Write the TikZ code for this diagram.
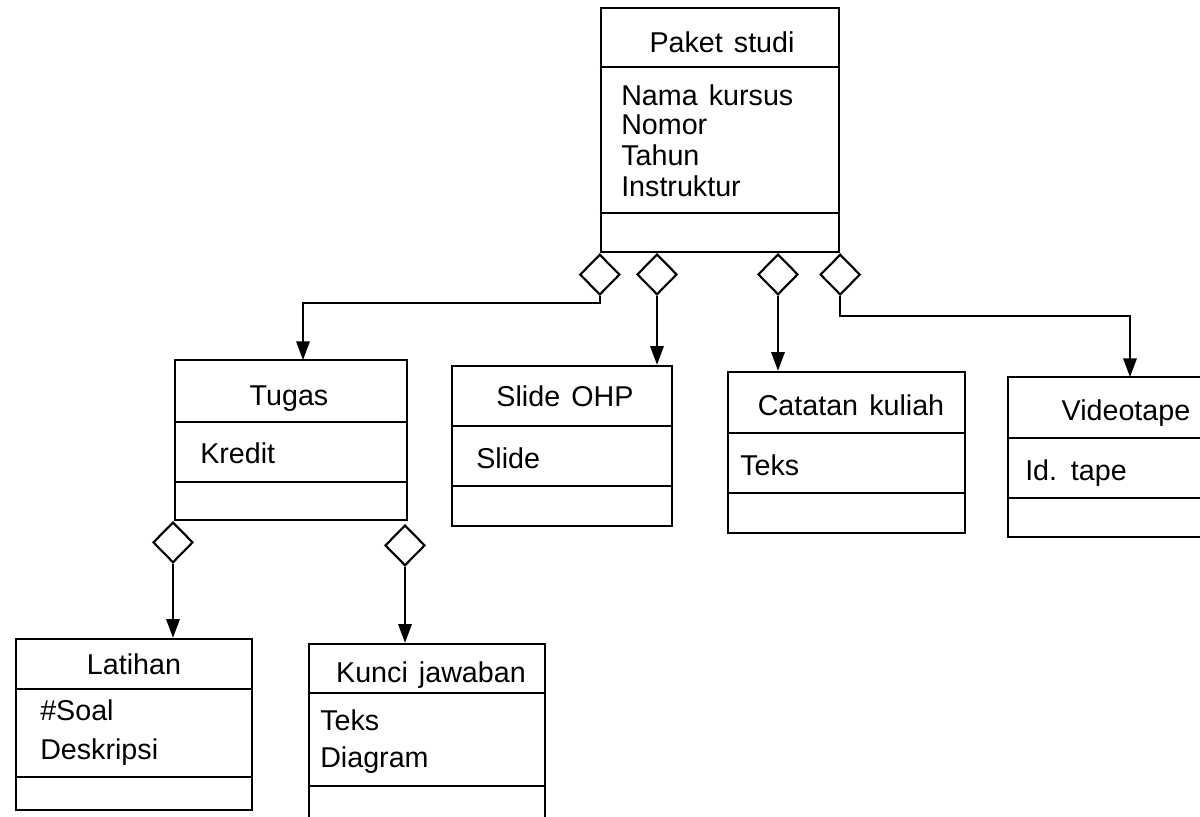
\documentclass[tikz,border=0pt]{standalone}
\usepackage{fontspec}
\setmainfont[WordSpace=1.4]{Liberation Sans}
\usetikzlibrary{fit,shapes.geometric,arrows.meta}
\begin{document}
\begin{tikzpicture}[x=0.75pt,y=-0.75pt,
  classbox/.style={draw,line width=1.8pt,inner sep=0pt},
  divider/.style={line width=1.3pt},
  agg/.style={draw,diamond,aspect=1,line width=1.6pt,inner sep=0pt,
    minimum width=30pt,minimum height=30.5pt,anchor=north,fill=white},
  conn/.style={line width=1.6pt,-{Triangle[length=14pt,width=10pt]}},
  ttl/.style={anchor=base,inner sep=0pt,font=\fontsize{21.5}{25}\selectfont},
  attr/.style={anchor=base west,inner sep=0pt,font=\fontsize{21.5}{25}\selectfont}]
\useasboundingbox (0,0) rectangle (1200,817);
\fill[white] (0,0) rectangle (1200,817);

% ---- Paket studi
\node[classbox,fit={(601,8)(839,252)}] (paket) {};
\draw[divider] (paket.west |- 0,67) -- (paket.east |- 0,67);
\draw[divider] (paket.west |- 0,213) -- (paket.east |- 0,213);
\node[ttl] (paketT) at (722,53) {Paket studi};
\node[attr] (pa1) at (621,105) {Nama kursus};
\node[attr] (pa2) at (621,134) {Nomor};
\node[attr] (pa3) at (621,165) {Tahun};
\node[attr] (pa4) at (621,196) {Instruktur};

% ---- Tugas
\node[classbox,fit={(175,360)(407,520)}] (tugas) {};
\draw[divider] (tugas.west |- 0,422) -- (tugas.east |- 0,422);
\draw[divider] (tugas.west |- 0,482) -- (tugas.east |- 0,482);
\node[ttl] (tugasT) at (289,405) {Tugas};
\node[attr] (ta1) at (200,463) {Kredit};

% ---- Slide OHP
\node[classbox,fit={(452,366)(672,526)}] (slide) {};
\draw[divider] (slide.west |- 0,426) -- (slide.east |- 0,426);
\draw[divider] (slide.west |- 0,486) -- (slide.east |- 0,486);
\node[ttl] (slideT) at (565,406) {Slide OHP};
\node[attr] (sa1) at (476,468) {Slide};

% ---- Catatan kuliah
\node[classbox,fit={(728,372)(965,533)}] (catatan) {};
\draw[divider] (catatan.west |- 0,433) -- (catatan.east |- 0,433);
\draw[divider] (catatan.west |- 0,493) -- (catatan.east |- 0,493);
\node[ttl] (catatanT) at (851,415) {Catatan kuliah};
\node[attr] (ca1) at (740,475) {Teks};

% ---- Videotape
\node[classbox,fit={(1008,377)(1215,537)}] (video) {};
\draw[divider] (video.west |- 0,438) -- (video.east |- 0,438);
\draw[divider] (video.west |- 0,498) -- (video.east |- 0,498);
\node[ttl] (videoT) at (1126,420) {Videotape};
\node[attr] (va1) at (1025,480) {Id. tape};

% ---- Latihan
\node[classbox,fit={(16,639)(252,810)}] (latihan) {};
\draw[divider] (latihan.west |- 0,689) -- (latihan.east |- 0,689);
\draw[divider] (latihan.west |- 0,777) -- (latihan.east |- 0,777);
\node[ttl] (latihanT) at (134,674) {Latihan};
\node[attr] (la1) at (40,720) {\#Soal};
\node[attr] (la2) at (40,759) {Deskripsi};

% ---- Kunci jawaban
\node[classbox,fit={(309,644)(545,835)}] (kunci) {};
\draw[divider] (kunci.west |- 0,693) -- (kunci.east |- 0,693);
\draw[divider] (kunci.west |- 0,786) -- (kunci.east |- 0,786);
\node[ttl] (kunciT) at (431,682) {Kunci jawaban};
\node[attr] (ka1) at (320,730) {Teks};
\node[attr] (ka2) at (320,767) {Diagram};

% ---- aggregation diamonds
\node[agg] (d1) at (paket.south west) {};
\node[agg] (d2) at (657,253) {};
\node[agg] (d3) at (778,253) {};
\node[agg] (d4) at (paket.south east) {};
\node[agg] (d5) at (173,521) {};
\node[agg] (d6) at (405,524) {};

% ---- connector end points
\coordinate (tugasIn) at (303,360);
\coordinate (videoIn) at (1130,377);

% ---- connectors
\draw[conn] (d1.south) -- ++(0,7) -| (tugasIn);
\draw[conn] (d2.south) -- (d2.south |- slide.north);
\draw[conn] (d3.south) -- (d3.south |- catatan.north);
\draw[conn] (d4.south) -- ++(0,20) -| (videoIn);
\draw[conn] (d5.south) -- (d5.south |- latihan.north);
\draw[conn] (d6.south) -- (d6.south |- kunci.north);
\end{tikzpicture}
\end{document}
